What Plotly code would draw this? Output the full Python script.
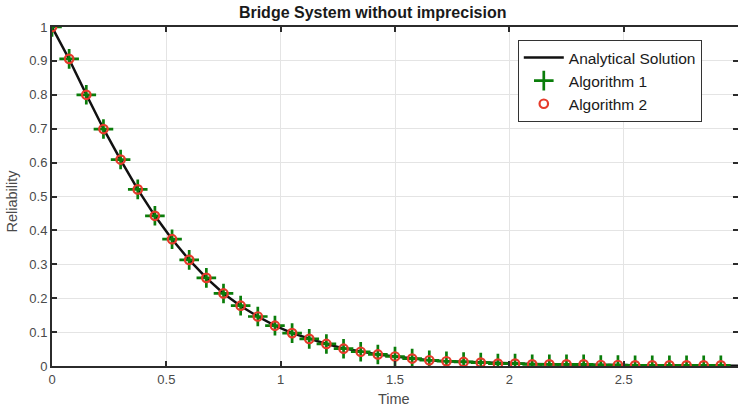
import plotly.graph_objects as go

# Time points
time_line = [round(0.075 * k, 3) for k in range(41)]
time_pts = [round(0.075 * k, 3) for k in range(40)]

analytical = [1.000, 0.905, 0.801, 0.700, 0.608, 0.521, 0.443, 0.374, 0.313, 0.260,
              0.214, 0.177, 0.146, 0.119, 0.097, 0.080, 0.065, 0.052, 0.042, 0.034,
              0.028, 0.022, 0.017, 0.014, 0.012, 0.010, 0.008, 0.007, 0.006, 0.005,
              0.005, 0.004, 0.003, 0.003, 0.002, 0.002, 0.002, 0.002, 0.002, 0.002,
              0.001]
algorithm1 = [1.000, 0.906, 0.800, 0.699, 0.609, 0.521, 0.443, 0.374, 0.313, 0.260,
              0.214, 0.178, 0.146, 0.119, 0.097, 0.080, 0.065, 0.051, 0.042, 0.034,
              0.028, 0.022, 0.017, 0.014, 0.012, 0.010, 0.007, 0.007, 0.005, 0.005,
              0.005, 0.005, 0.003, 0.003, 0.002, 0.002, 0.002, 0.002, 0.002, 0.002]
algorithm2 = [1.000, 0.906, 0.800, 0.699, 0.609, 0.521, 0.443, 0.374, 0.313, 0.260,
              0.214, 0.178, 0.146, 0.119, 0.097, 0.080, 0.065, 0.051, 0.042, 0.034,
              0.028, 0.022, 0.017, 0.014, 0.012, 0.010, 0.007, 0.007, 0.005, 0.005,
              0.005, 0.005, 0.003, 0.003, 0.002, 0.002, 0.002, 0.002, 0.002, 0.002]

x_ticks = [0, 0.5, 1, 1.5, 2, 2.5, 3]
x_labels = ["0", "0.5", "1", "1.5", "2", "2.5", "3"]
y_ticks = [0, 0.1, 0.2, 0.3, 0.4, 0.5, 0.6, 0.7, 0.8, 0.9, 1]
y_labels = ["0", "0.1", "0.2", "0.3", "0.4", "0.5", "0.6", "0.7", "0.8", "0.9", "1"]

FONT = "Liberation Sans, Arial, sans-serif"

fig = go.Figure()
fig.add_trace(go.Scatter(x=time_line, y=analytical, mode="lines", name="Analytical Solution",
                         line=dict(color="#111111", width=2.5)))
fig.add_trace(go.Scatter(x=time_pts, y=algorithm1, mode="markers", name="Algorithm 1",
                         marker=dict(symbol="cross-thin", size=14, color="#0a7d0a",
                                     line=dict(color="#0a7d0a", width=2.7))))
fig.add_trace(go.Scatter(x=time_pts, y=algorithm2, mode="markers", name="Algorithm 2",
                         marker=dict(symbol="circle-open", size=8.5, color="#e63b2b",
                                     line=dict(color="#e63b2b", width=2.2))))

axis_common = dict(showgrid=True, gridcolor="#e4e4e4", gridwidth=1,
                   showline=True, linecolor="#2b2b2b", linewidth=2,
                   ticks="inside", ticklen=5, tickwidth=1.5, tickcolor="#2b2b2b",
                   mirror="ticks", zeroline=False, automargin=False,
                   tickfont=dict(family=FONT, size=13, color="#4a4a4a"))

fig.update_layout(
    width=738, height=408,
    margin=dict(l=52, r=0, t=27, b=42, autoexpand=False),
    paper_bgcolor="white", plot_bgcolor="white",
    title=dict(text="<b>Bridge System without imprecision</b>", xref="container", x=0.505,
               xanchor="center", yref="container", y=0.969, yanchor="middle",
               font=dict(family=FONT, size=16, color="#1a1a1a")),
    xaxis=dict(range=[0, 3], tickvals=x_ticks, ticktext=x_labels, **axis_common),
    yaxis=dict(range=[0, 1], tickvals=y_ticks, ticktext=y_labels, **axis_common),
    legend=dict(x=0.679, y=0.962, xanchor="left", yanchor="top",
                bgcolor="white", bordercolor="#333333", borderwidth=1,
                font=dict(family=FONT, size=15.5, color="#1a1a1a"),
                tracegroupgap=0, itemwidth=40,
                entrywidth=170, entrywidthmode="pixels"),
    showlegend=True,
    annotations=[
        dict(text="Time", xref="paper", yref="paper", x=0.4985, y=-0.0973,
             xanchor="center", yanchor="middle", showarrow=False,
             font=dict(family=FONT, size=14.5, color="#4a4a4a")),
        dict(text="Reliability", xref="paper", yref="paper", x=-0.0583, y=0.485,
             xanchor="center", yanchor="middle", showarrow=False, textangle=-90,
             font=dict(family=FONT, size=14.5, color="#4a4a4a")),
    ],
)

fig.write_html("out.html", config={"displayModeBar": False},
               post_script="document.body.style.margin='0';document.body.style.overflow='hidden';")
